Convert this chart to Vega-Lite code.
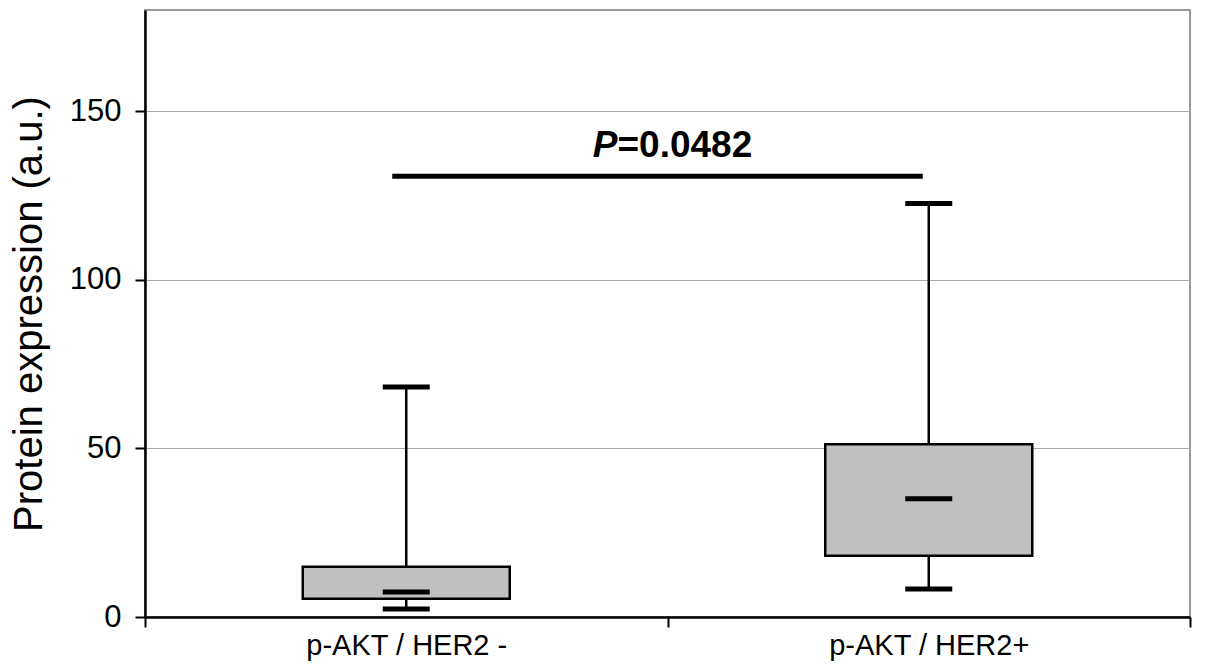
{
  "$schema": "https://vega.github.io/schema/vega-lite/v6.json",
  "width": 1045,
  "height": 607,
  "autosize": {"type": "none"},
  "padding": {"left": 145, "top": 10, "right": 15, "bottom": 55},
  "background": "white",
  "config": {
    "view": {"stroke": "#999999", "strokeWidth": 2},
    "font": "Liberation Sans",
    "axis": {"labelFont": "Liberation Sans", "titleFont": "Liberation Sans", "labelColor": "black", "titleColor": "black"}
  },
  "datasets": {
    "boxes": [
      {"g": "p-AKT / HER2 -", "low": 2.4, "q1": 5.4, "median": 7.4, "q3": 14.9, "high": 68.2},
      {"g": "p-AKT / HER2+", "low": 8.3, "q1": 18.2, "median": 35.1, "q3": 51.2, "high": 122.6}
    ],
    "sig": [
      {"from": "p-AKT / HER2 -", "to": "p-AKT / HER2+", "y": 130.7, "ty": 136.3, "p": "P", "rest": "=0.0482"}
    ]
  },
  "layer": [
    {
      "data": {"name": "boxes"},
      "mark": {"type": "rule", "color": "black", "strokeWidth": 2.5},
      "encoding": {
        "x": {"field": "g", "type": "nominal", "sort": null,
              "scale": {"paddingInner": 0, "paddingOuter": 0},
              "axis": {"title": null, "labelAngle": 0, "labelFontSize": 29, "labelPadding": 4, "labelLimit": 0,
                       "tickBand": "extent", "tickSize": 10, "tickColor": "black", "tickWidth": 2,
                       "domainColor": "black", "domainWidth": 2.5, "grid": false}},
        "y": {"field": "low", "type": "quantitative",
              "scale": {"domain": [0, 180], "nice": false, "zero": true},
              "axis": {"values": [0, 50, 100, 150], "title": "Protein expression (a.u.)",
                       "titleFontSize": 40, "titleFontWeight": "normal", "titlePadding": 20,
                       "labelFontSize": 31, "labelPadding": 14, "tickSize": 10, "tickColor": "black", "tickWidth": 2,
                       "domainColor": "black", "domainWidth": 2.5,
                       "grid": true, "gridColor": "#a8a8a8", "gridWidth": 1}},
        "y2": {"field": "q1"}
      }
    },
    {
      "data": {"name": "boxes"},
      "mark": {"type": "rule", "color": "black", "strokeWidth": 2.5},
      "encoding": {
        "x": {"field": "g", "type": "nominal", "sort": null},
        "y": {"field": "q3", "type": "quantitative"},
        "y2": {"field": "high"}
      }
    },
    {
      "data": {"name": "boxes"},
      "mark": {"type": "bar", "width": 207, "fill": "#c0c0c0", "stroke": "black", "strokeWidth": 2.5},
      "encoding": {
        "x": {"field": "g", "type": "nominal", "sort": null},
        "y": {"field": "q1", "type": "quantitative"},
        "y2": {"field": "q3"}
      }
    },
    {
      "data": {"name": "boxes"},
      "mark": {"type": "tick", "size": 47, "thickness": 5, "color": "black", "opacity": 1},
      "encoding": {
        "x": {"field": "g", "type": "nominal", "sort": null},
        "y": {"field": "median", "type": "quantitative"}
      }
    },
    {
      "data": {"name": "boxes"},
      "mark": {"type": "tick", "size": 47, "thickness": 5, "color": "black", "opacity": 1},
      "encoding": {
        "x": {"field": "g", "type": "nominal", "sort": null},
        "y": {"field": "low", "type": "quantitative"}
      }
    },
    {
      "data": {"name": "boxes"},
      "mark": {"type": "tick", "size": 47, "thickness": 5, "color": "black", "opacity": 1},
      "encoding": {
        "x": {"field": "g", "type": "nominal", "sort": null},
        "y": {"field": "high", "type": "quantitative"}
      }
    },
    {
      "data": {"name": "sig"},
      "mark": {"type": "rule", "color": "black", "strokeWidth": 5, "xOffset": -14, "x2Offset": -6},
      "encoding": {
        "x": {"field": "from", "type": "nominal", "sort": null},
        "x2": {"field": "to"},
        "y": {"field": "y", "type": "quantitative"}
      }
    },
    {
      "data": {"name": "sig"},
      "mark": {"type": "text", "fontSize": 37, "fontWeight": "bold", "fontStyle": "italic", "align": "right", "baseline": "alphabetic", "xOffset": -50, "color": "black"},
      "encoding": {
        "x": {"field": "from", "type": "nominal", "sort": null, "bandPosition": 1},
        "y": {"field": "ty", "type": "quantitative"},
        "text": {"field": "p"}
      }
    },
    {
      "data": {"name": "sig"},
      "mark": {"type": "text", "fontSize": 37, "fontWeight": "bold", "align": "left", "baseline": "alphabetic", "xOffset": -50, "color": "black"},
      "encoding": {
        "x": {"field": "from", "type": "nominal", "sort": null, "bandPosition": 1},
        "y": {"field": "ty", "type": "quantitative"},
        "text": {"field": "rest"}
      }
    }
  ]
}
